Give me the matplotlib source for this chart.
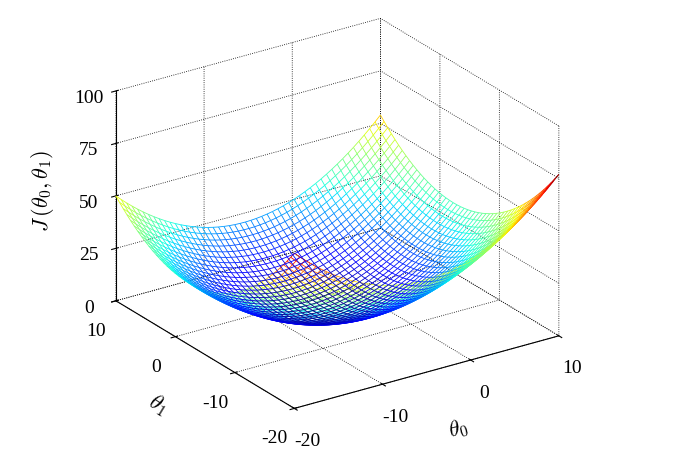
import numpy as np
import matplotlib
matplotlib.use("Agg")
import matplotlib.pyplot as plt
from mpl_toolkits.mplot3d.art3d import Line3DCollection

plt.rcParams['font.family'] = ['Liberation Serif', 'DejaVu Serif']
plt.rcParams['mathtext.fontset'] = 'cm'
plt.rcParams['axes.unicode_minus'] = False

theta0_range = [-20, 10]
theta1_range = [-20, 10]
n_grid = 50
# bowl in normalised coords u,v in [-1,1]: [uu, vv, uv, u, v, const]
coef = [31.3, 31.3, 0.25, 1.75, -11.75, 1.1]
z_ticks = [0, 25, 50, 75, 100]
x_ticks = [-20, -10, 0, 10]
y_ticks = [-20, -10, 0, 10]

t0 = np.linspace(*theta0_range, n_grid)
t1 = np.linspace(*theta1_range, n_grid)
X, Y = np.meshgrid(t0, t1)
u, v = (X + 5) / 15, (Y + 5) / 15
Z = coef[0]*u**2 + coef[1]*v**2 + coef[2]*u*v + coef[3]*u + coef[4]*v + coef[5]

fig = plt.figure(figsize=(6.96, 4.56), dpi=100)
ax = fig.add_axes([-0.025, -0.035, 1.0, 1.1], projection='3d')
ax.set_proj_type('ortho')

norm = plt.Normalize(Z.min(), Z.max())
cmap = plt.cm.jet
segs, cols = [], []
for i in range(n_grid):
    for j in range(n_grid - 1):
        p = (X[i, j], Y[i, j], Z[i, j]); q = (X[i, j+1], Y[i, j+1], Z[i, j+1])
        segs.append([p, q]); cols.append(cmap(norm((Z[i, j]+Z[i, j+1])/2)))
        p = (X[j, i], Y[j, i], Z[j, i]); q = (X[j+1, i], Y[j+1, i], Z[j+1, i])
        segs.append([p, q]); cols.append(cmap(norm((Z[j, i]+Z[j+1, i])/2)))
ax.add_collection3d(Line3DCollection(segs, colors=cols, linewidths=0.6))

ax.set_xlim(-20, 10); ax.set_ylim(-20, 10); ax.set_zlim(0, 100)
ax.set_xticks(x_ticks); ax.set_yticks(y_ticks); ax.set_zticks(z_ticks)
ax.view_init(elev=24, azim=-124)
for a in (ax.xaxis, ax.yaxis, ax.zaxis):
    a.set_pane_color((1, 1, 1, 0))
    a._axinfo['grid'].update(color='k', linestyle=':', linewidth=0.6)
    a.line.set_color('k')
ax.tick_params(labelsize=14)
ax.tick_params(axis='x', pad=6)
ax.tick_params(axis='y', pad=6)
ax.set_xlabel(r'$\theta_0$', fontsize=16, labelpad=12)
ax.set_ylabel(r'$\theta_1$', fontsize=16, labelpad=12)
ax.set_zlabel(r'$J\,(\theta_0,\theta_1)$', fontsize=16, labelpad=10)
ax.set_box_aspect((1, 1, 0.72), zoom=0.98)
fig.savefig('out.png', dpi=100)
